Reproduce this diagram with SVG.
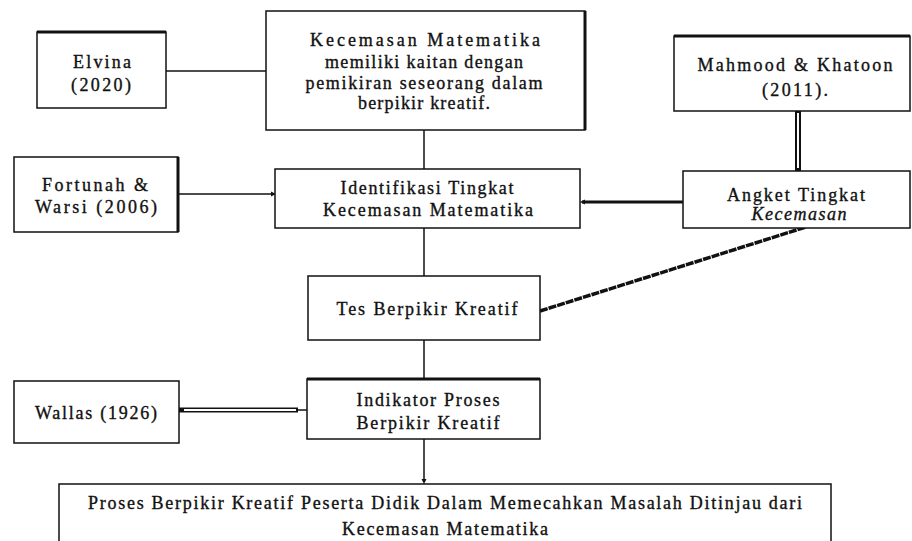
<svg xmlns="http://www.w3.org/2000/svg" width="912" height="541" viewBox="0 0 912 541">
<defs>
<style>
.box{fill:#fff;stroke:#111;stroke-width:1.5}
.edge{stroke:#111;stroke-width:3}
.t{font-family:'Liberation Serif','DejaVu Serif','Times New Roman',serif;font-size:18px;fill:#111;stroke:#111;stroke-width:0.35;text-anchor:middle}
.c{stroke:#111;stroke-width:1.5;fill:none}
</style>
<marker id="dot" markerWidth="6" markerHeight="6" refX="3" refY="3" orient="auto" markerUnits="userSpaceOnUse">
<path d="M0,0.5 L5,3 L0,5.5 z" fill="#111"/>
</marker>
</defs>
<rect width="912" height="541" fill="#fff"/>

<g id="connectors">
<line class="c" x1="166" y1="71" x2="266" y2="71"/>
<line class="c" x1="424" y1="130" x2="424" y2="169"/>
<line class="c" x1="178" y1="194" x2="274" y2="194" marker-end="url(#dot)"/>
<line x1="683" y1="202" x2="582" y2="202" stroke="#111" stroke-width="3" marker-end="url(#dot)"/>
<line x1="798" y1="111" x2="798" y2="171" stroke="#111" stroke-width="6"/>
<line x1="798" y1="113" x2="798" y2="168" stroke="#fff" stroke-width="2"/>
<line class="c" x1="424" y1="228" x2="424" y2="276"/>
<line x1="540" y1="311" x2="806" y2="227" stroke="#111" stroke-width="3.5" stroke-dasharray="8 1"/>
<line class="c" x1="424" y1="340" x2="424" y2="379"/>
<line x1="179" y1="410" x2="298" y2="410" stroke="#111" stroke-width="5"/>
<line x1="184" y1="410" x2="296" y2="410" stroke="#fff" stroke-width="2"/>
<line class="c" x1="298" y1="410" x2="307" y2="410"/>
<line class="c" x1="424" y1="439" x2="424" y2="482" marker-end="url(#dot)"/>
</g>

<g id="node-elvina">
<rect class="box" x="37" y="32" width="129" height="76"/>
<line class="edge" x1="37" y1="32" x2="166" y2="32"/>
<text class="t" x="102" y="68" textLength="58">Elvina</text>
<text class="t" x="101" y="91" textLength="60">(2020)</text>
</g>

<g id="node-kecemasan">
<rect class="box" x="266" y="11" width="319" height="119"/>
<line class="edge" x1="585" y1="11" x2="585" y2="130"/>
<text class="t" x="425" y="46" textLength="230">Kecemasan Matematika</text>
<text class="t" x="424" y="68" textLength="198">memiliki kaitan dengan</text>
<text class="t" x="424" y="89" textLength="237">pemikiran seseorang dalam</text>
<text class="t" x="424" y="109" textLength="132">berpikir kreatif.</text>
</g>

<g id="node-mahmood">
<rect class="box" x="674" y="36" width="236" height="75"/>
<line class="edge" x1="674" y1="36" x2="910" y2="36"/>
<text class="t" x="795" y="71" textLength="195">Mahmood &amp; Khatoon</text>
<text class="t" x="795" y="96" textLength="66">(2011).</text>
</g>

<g id="node-fortunah">
<rect class="box" x="14" y="157" width="164" height="75"/>
<line class="edge" x1="178" y1="157" x2="178" y2="232"/>
<text class="t" x="95" y="191" textLength="106">Fortunah &amp;</text>
<text class="t" x="96" y="213" textLength="122">Warsi (2006)</text>
</g>

<g id="node-identifikasi">
<rect class="box" x="275" y="169" width="305" height="59"/>
<text class="t" x="427" y="194" textLength="173">Identifikasi Tingkat</text>
<text class="t" x="428" y="216" textLength="210">Kecemasan Matematika</text>
</g>

<g id="node-angket">
<rect class="box" x="683" y="171" width="227" height="57"/>
<text class="t" x="796" y="201" textLength="138" font-size="16">Angket Tingkat</text>
<text class="t" x="799" y="220" textLength="95" font-size="15" font-style="italic">Kecemasan</text>
</g>

<g id="node-tes">
<rect class="box" x="308" y="276" width="232" height="64"/>
<text class="t" x="427" y="315" textLength="181">Tes Berpikir Kreatif</text>
</g>

<g id="node-wallas">
<rect class="box" x="14" y="381" width="165" height="62"/>
<text class="t" x="96" y="419" textLength="122">Wallas (1926)</text>
</g>

<g id="node-indikator">
<rect class="box" x="307" y="379" width="233" height="60"/>
<line class="edge" x1="307" y1="379" x2="540" y2="379"/>
<text class="t" x="428" y="406" textLength="143">Indikator Proses</text>
<text class="t" x="428" y="429" textLength="143">Berpikir Kreatif</text>
</g>

<g id="node-proses">
<rect class="box" x="59" y="484" width="772" height="70"/>
<text class="t" x="445" y="509" textLength="714">Proses Berpikir Kreatif Peserta Didik Dalam Memecahkan Masalah Ditinjau dari</text>
<text class="t" x="445" y="535" textLength="206">Kecemasan Matematika</text>
</g>
</svg>
